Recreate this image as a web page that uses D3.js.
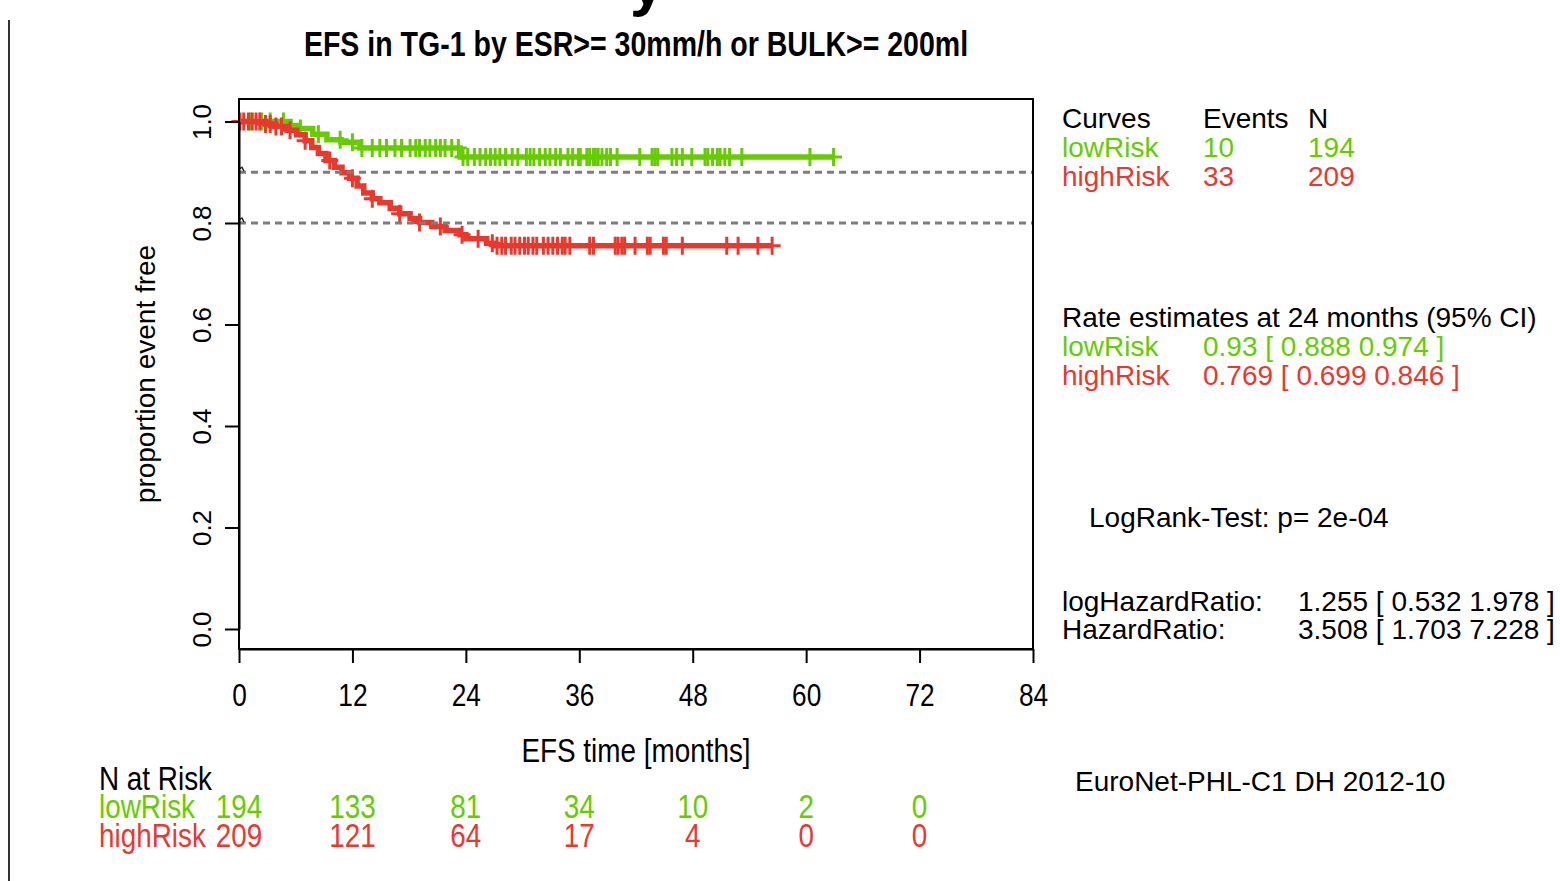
<!DOCTYPE html>
<html>
<head>
<meta charset="utf-8">
<script src="https://cdn.jsdelivr.net/npm/d3@7/dist/d3.min.js"></script>
<style>
  body { margin: 0; background: #fff; }
  svg { display: block; }
  text { font-family: 'Liberation Sans', Arial, sans-serif; }
</style>
</head>
<body>
<svg id="chart" width="1560" height="881"></svg>
<script>
// survival steps (time in months, proportion event free)
const lowRiskTimes = [0, 5.4, 6.3, 7.8, 9.3, 10.8, 12.8, 23.4, 62.9];
const lowRiskSurv  = [1, 0.992, 0.986, 0.975, 0.964, 0.959, 0.948, 0.930, 0.930];
const lowRiskCensor = [1.2, 2.4, 3.3, 4.7, 6.5, 8.4, 10.7, 12.0, 13.0, 14.1, 14.9, 15.6, 16.5, 17.2,
  18.1, 18.7, 19.1, 19.7, 20.2, 20.8, 21.3, 21.8, 22.5, 23.2, 23.7, 24.2, 24.9, 25.5, 26.1, 26.6,
  27.1, 27.6, 28.2, 28.9, 29.5, 30.4, 30.8, 31.2, 31.8, 32.4, 32.9, 33.5, 34.0, 34.8, 35.3, 35.9,
  36.1, 36.8, 37.1, 37.5, 37.7, 38.0, 38.4, 38.9, 39.3, 40.0, 42.4, 43.7, 44.0, 44.3, 45.8, 46.3,
  46.9, 47.9, 49.3, 49.6, 50.1, 50.6, 50.9, 51.4, 51.9, 53.2, 60.4, 62.9];

const highRiskTimes = [0, 2.8, 3.8, 5.1, 6.1, 7.0, 7.7, 8.4, 9.2, 10.1, 10.9, 11.7, 12.5, 13.2, 14.1,
  14.9, 16.0, 17.0, 18.1, 19.1, 20.4, 21.8, 23.4, 24.0, 26.2, 27.1, 56.4];
const highRiskSurv = [1, 0.995, 0.990, 0.983, 0.974, 0.962, 0.949, 0.937, 0.923, 0.910, 0.899, 0.888,
  0.873, 0.859, 0.848, 0.840, 0.829, 0.818, 0.809, 0.801, 0.793, 0.785, 0.777, 0.769, 0.760, 0.755, 0.755];
const highRiskCensor = [0.1, 0.5, 1.0, 1.4, 1.8, 2.2, 2.8, 3.3, 3.9, 4.5, 5.4, 7.0, 9.6, 12.0, 14.1,
  17.0, 19.1, 21.3, 23.6, 25.3, 26.8, 27.3, 27.8, 28.2, 28.8, 29.2, 29.7, 30.2, 30.6, 31.1, 31.5,
  32.2, 32.7, 33.2, 33.7, 34.2, 34.5, 35.0, 37.1, 37.5, 39.8, 40.1, 40.5, 40.8, 41.9, 43.2, 43.5,
  44.9, 45.2, 46.9, 51.6, 52.8, 54.9, 56.4];

const xTicks = [0, 12, 24, 36, 48, 60, 72, 84];
const yTicks = [0, 0.2, 0.4, 0.6, 0.8, 1.0];
const refLines = [0.9, 0.8];

const riskTimes = [0, 12, 24, 36, 48, 60, 72];
const lowRiskAtRisk = [194, 133, 81, 34, 10, 2, 0];
const highRiskAtRisk = [209, 121, 64, 17, 4, 0, 0];

const curveNames = ['lowRisk', 'highRisk'];
const curveEvents = [10, 33];
const curveN = [194, 209];
const rateEstimates = ['0.93 [ 0.888 0.974 ]', '0.769 [ 0.699 0.846 ]'];

const green = '#66cc00';
const red = '#e8392f';
const squeeze = 0.82; // fake a narrow face, no narrow font installed

const svg = d3.select('#chart');

const x = d3.scaleLinear().domain([0, 84]).range([239, 1033]);
const y = d3.scaleLinear().domain([0, 1]).range([629, 121.5]);

const narrowText = (px, py, size, anchor, str, fill) =>
  svg.append('text')
    .attr('transform', `translate(${px},${py}) scale(${squeeze},1)`)
    .attr('text-anchor', anchor)
    .attr('font-size', size)
    .attr('fill', fill || '#000')
    .text(str);

// stray bits from the page around the plot
svg.append('line').attr('x1', 9).attr('x2', 9).attr('y1', 20).attr('y2', 881)
  .attr('stroke', '#333').attr('stroke-width', 2);
svg.append('text').attr('x', 630).attr('y', 4)
  .attr('font-size', 62).attr('font-weight', 'bold').text('y');

narrowText(636, 56, 34.8, 'middle', 'EFS in TG-1 by ESR>= 30mm/h or BULK>= 200ml')
  .attr('font-weight', 'bold');

// curves
const stepLine = d3.line().x(d => x(d[0])).y(d => y(d[1])).curve(d3.curveStepAfter);

const survAt = (times, surv, t) => {
  let s = surv[0];
  times.forEach((tt, i) => { if (tt <= t) s = surv[i]; });
  return s;
};

const curves = [
  { times: lowRiskTimes, surv: lowRiskSurv, censor: lowRiskCensor, color: green },
  { times: highRiskTimes, surv: highRiskSurv, censor: highRiskCensor, color: red }
];

curves.forEach(c => {
  const pts = c.times.map((t, i) => [t, c.surv[i]]);
  svg.append('path').datum(pts)
    .attr('d', stepLine)
    .attr('fill', 'none')
    .attr('stroke', c.color)
    .attr('stroke-width', 5.5);

  svg.append('g').selectAll('path')
    .data(c.censor)
    .enter()
    .append('path')
    .attr('d', t => {
      const cx = x(t), cy = y(survAt(c.times, c.surv, t));
      return `M${cx - 8.5},${cy}H${cx + 8.5}M${cx},${cy - 9}V${cy + 9}`;
    })
    .attr('stroke', c.color)
    .attr('stroke-width', 3)
    .attr('fill', 'none');
});

// dashed reference lines, with the little hook R leaves at their left end
svg.selectAll('.ref')
  .data(refLines)
  .enter()
  .append('line')
  .attr('class', 'ref')
  .attr('x1', x(0)).attr('x2', x(84))
  .attr('y1', d => y(d)).attr('y2', d => y(d))
  .attr('stroke', '#7d7d7d')
  .attr('stroke-width', 2.8)
  .attr('stroke-dasharray', '7,5');
svg.selectAll('.hook')
  .data(refLines)
  .enter()
  .append('path')
  .attr('class', 'hook')
  .attr('d', d => `M${x(0)},${y(d) - 3}L${x(0) + 3},${y(d) - 5}L${x(0) + 5},${y(d) - 1}`)
  .attr('fill', 'none')
  .attr('stroke', '#222')
  .attr('stroke-width', 1.5);

// box
svg.append('rect')
  .attr('x', 239).attr('y', 99).attr('width', 1033 - 239).attr('height', 649 - 99)
  .attr('fill', 'none').attr('stroke', '#000').attr('stroke-width', 2);

// axes
const xAxis = svg.append('g')
  .attr('transform', 'translate(0,649)')
  .call(d3.axisBottom(x).tickValues(xTicks).tickSize(14).tickSizeOuter(0).tickPadding(20));
xAxis.selectAll('text')
  .attr('font-size', 32).attr('fill', '#000')
  .attr('transform', `scale(${squeeze},1)`);
xAxis.selectAll('line, path').attr('stroke', '#000').attr('stroke-width', 2);

const yAxis = svg.append('g')
  .attr('transform', 'translate(239,0)')
  .call(d3.axisLeft(y).tickValues(yTicks).tickFormat(d3.format('.1f')).tickSize(14).tickSizeOuter(0));
yAxis.selectAll('text')
  .attr('font-size', 26).attr('fill', '#000')
  .attr('transform', 'rotate(-90)')
  .attr('x', 0).attr('y', -28).attr('dy', 0)
  .attr('text-anchor', 'middle');
yAxis.selectAll('line, path').attr('stroke', '#000').attr('stroke-width', 2);

svg.append('text')
  .attr('transform', 'translate(155,374) rotate(-90)')
  .attr('text-anchor', 'middle').attr('font-size', 28)
  .text('proportion event free');

narrowText(636, 762, 34, 'middle', 'EFS time [months]');

// number at risk
narrowText(99, 790, 34, 'start', 'N at Risk');

const riskRows = [
  { name: 'lowRisk', values: lowRiskAtRisk, color: green, yPos: 818 },
  { name: 'highRisk', values: highRiskAtRisk, color: red, yPos: 847 }
];
riskRows.forEach(r => {
  narrowText(99, r.yPos, 34, 'start', r.name, r.color);
  svg.append('g').selectAll('text')
    .data(r.values)
    .enter()
    .append('text')
    .attr('transform', (d, i) => `translate(${x(riskTimes[i])},${r.yPos}) scale(${squeeze},1)`)
    .attr('text-anchor', 'middle')
    .attr('font-size', 34)
    .attr('fill', r.color)
    .text(d => d);
});

// right hand legend
const leg = svg.append('g').attr('font-size', 28);
const legColors = [green, red];

leg.append('text').attr('x', 1062).attr('y', 128).text('Curves');
leg.append('text').attr('x', 1203).attr('y', 128).text('Events');
leg.append('text').attr('x', 1308).attr('y', 128).text('N');
curveNames.forEach((n, i) => {
  const yy = 157 + i * 28.5;
  leg.append('text').attr('x', 1062).attr('y', yy).attr('fill', legColors[i]).text(n);
  leg.append('text').attr('x', 1203).attr('y', yy).attr('fill', legColors[i]).text(curveEvents[i]);
  leg.append('text').attr('x', 1308).attr('y', yy).attr('fill', legColors[i]).text(curveN[i]);
});

leg.append('text').attr('x', 1062).attr('y', 327).text('Rate estimates at 24 months (95% CI)');
curveNames.forEach((n, i) => {
  const yy = 356 + i * 28.5;
  leg.append('text').attr('x', 1062).attr('y', yy).attr('fill', legColors[i]).text(n);
  leg.append('text').attr('x', 1203).attr('y', yy).attr('fill', legColors[i]).text(rateEstimates[i]);
});

leg.append('text').attr('x', 1089).attr('y', 527).text('LogRank-Test: p= 2e-04');

leg.append('text').attr('x', 1062).attr('y', 611).text('logHazardRatio:');
leg.append('text').attr('x', 1298).attr('y', 611).text('1.255 [ 0.532 1.978 ]');
leg.append('text').attr('x', 1062).attr('y', 639).text('HazardRatio:');
leg.append('text').attr('x', 1298).attr('y', 639).text('3.508 [ 1.703 7.228 ]');

leg.append('text').attr('x', 1075).attr('y', 791).text('EuroNet-PHL-C1 DH 2012-10');
</script>
</body>
</html>
